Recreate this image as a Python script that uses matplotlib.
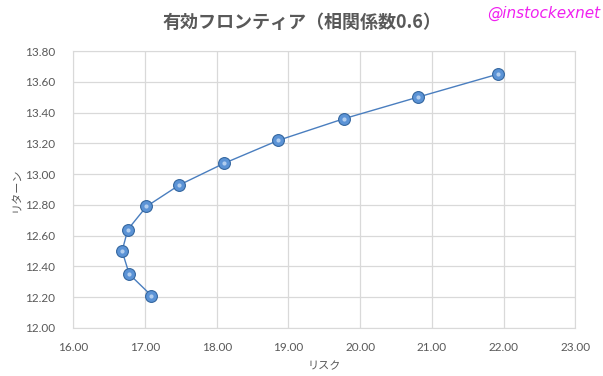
import numpy as np
import matplotlib
matplotlib.use('Agg')
import matplotlib.pyplot as plt

plt.rcParams['font.family'] = ['Noto Sans CJK JP', 'DejaVu Sans']

# データ（リスク・リターン）
risk = [17.09, 16.78, 16.68, 16.76, 17.02, 17.48, 18.10, 18.86, 19.77, 20.80, 21.92]
ret = [12.21, 12.35, 12.50, 12.64, 12.79, 12.93, 13.07, 13.22, 13.36, 13.50, 13.65]

xticks = np.arange(16, 23.01, 1)
yticks = np.arange(12, 13.81, 0.2)

fig = plt.figure(figsize=(6.03, 3.76), dpi=100)
ax = fig.add_axes([0.1216, 0.1277, 0.8325, 0.7364])

ax.plot(risk, ret, color='#4a7ebf', lw=1.0, zorder=2)
ax.plot(risk, ret, 'o', ms=8.5, mfc='#5b93d6', mec='#34669f', mew=0.8, zorder=3)
ax.plot(risk, ret, 'o', ms=3, mfc='#d6e7f9', mec='none', alpha=0.7, zorder=4)

ax.set_xlim(16, 23)
ax.set_ylim(12, 13.8)
ax.set_xticks(xticks)
ax.set_yticks(yticks)
ax.set_xticklabels(['%.2f' % v for v in xticks], family='Lato')
ax.set_yticklabels(['%.2f' % v for v in yticks], family='Lato')
ax.tick_params(length=0, labelsize=8.5, colors='#595959')
ax.tick_params(axis='x', pad=10)
ax.tick_params(axis='y', pad=13)
ax.grid(True, color='#d9d9d9', lw=0.9)
ax.set_axisbelow(True)
for s in ax.spines.values():
    s.set_color('#d9d9d9')

ax.set_xlabel('リスク', fontsize=8, color='#595959', labelpad=6)
ax.set_ylabel('リターン', fontsize=8, color='#595959', labelpad=3)

fig.text(0.5, 0.94, '有効フロンティア（相関係数0.6）', ha='center', va='center',
         fontsize=13, fontweight='bold', color='#595959')
fig.text(0.995, 0.965, '@instockexnet', ha='right', va='center',
         fontsize=11, style='italic', color='#f020f0', family='DejaVu Sans')

plt.savefig('out.png', dpi=100)
